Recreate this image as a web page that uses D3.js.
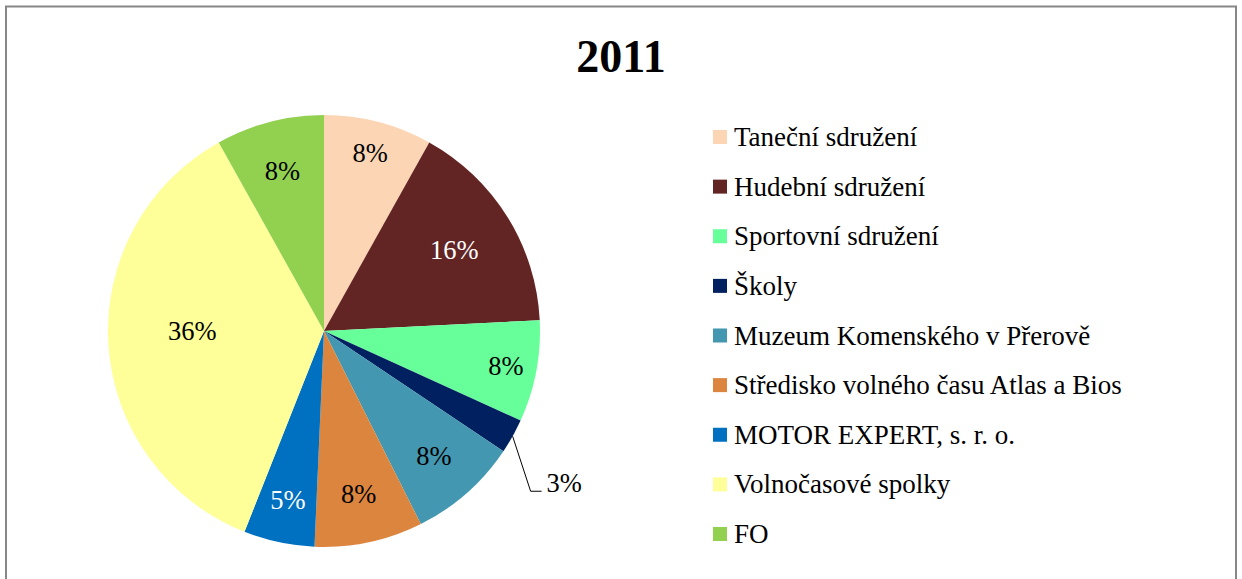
<!DOCTYPE html>
<html>
<head>
<meta charset="utf-8">
<script src="https://cdn.jsdelivr.net/npm/d3@7"></script>
<style>
  html, body { margin: 0; padding: 0; background: #fff; }
  svg { display: block; }
  text { font-family: "Liberation Serif", "Times New Roman", serif; }
</style>
</head>
<body>
<svg id="chart" width="1242" height="579"></svg>
<script>
// ---- data ----
const title = "2011";
const categories = [
  "Taneční sdružení",
  "Hudební sdružení",
  "Sportovní sdružení",
  "Školy",
  "Muzeum Komenského v Přerově",
  "Středisko volného času Atlas a Bios",
  "MOTOR EXPERT, s. r. o.",
  "Volnočasové spolky",
  "FO"
];
const values = [8.1, 16.1, 7.6, 2.6, 8.2, 8.1, 5.3, 35.9, 8.1];
const colors = ["#FCD5B5", "#632523", "#66FF99", "#002060", "#4397B0", "#DC853E", "#0070C0", "#FFFF99", "#92D050"];

// ---- layout / style ----
const labelRadius = [0.85, 0.71, 0.857, null, 0.77, 0.77, 0.80, 0.61, 0.765];
const labelColor = ["#000", "#fff", "#000", "#000", "#000", "#000", "#fff", "#000", "#000"];
const cx = 324, cy = 331, R = 216;

const svg = d3.select("#chart");

// border
svg.append("rect")
  .attr("x", 6).attr("y", 6.5).attr("width", 1230).attr("height", 600)
  .attr("fill", "#fff").attr("stroke", "#878787").attr("stroke-width", 2);

// title
svg.append("text")
  .attr("x", 621).attr("y", 72)
  .attr("text-anchor", "middle")
  .attr("font-size", 46).attr("font-weight", "bold")
  .text(title);

const total = d3.sum(values);
const pie = d3.pie().sort(null).value(d => d)(values);
const arc = d3.arc().innerRadius(0).outerRadius(R);

const g = svg.append("g").attr("transform", `translate(${cx},${cy})`);

g.selectAll("path.slice")
  .data(pie)
  .join("path")
  .attr("class", "slice")
  .attr("d", arc)
  .attr("fill", (d, i) => colors[i]);

const fmt = v => Math.round(v / total * 100) + "%";

pie.forEach((d, i) => {
  let mid = (d.startAngle + d.endAngle) / 2;
  if (i === 7) mid = 1.5 * Math.PI; // 36% label sits level with the centre
  if (labelRadius[i] != null) {
    const r = R * labelRadius[i];
    g.append("text")
      .attr("x", r * Math.sin(mid))
      .attr("y", -r * Math.cos(mid))
      .attr("text-anchor", "middle")
      .attr("dominant-baseline", "central")
      .attr("font-size", 26.5)
      .attr("fill", labelColor[i])
      .text(fmt(values[i]));
  } else {
    // outside label with leader line
    const x0 = R * Math.sin(mid), y0 = -R * Math.cos(mid);
    const x1 = x0 + 18, y1 = y0 + 55, x2 = x1 + 11;
    g.append("path")
      .attr("d", `M${x0},${y0}L${x1},${y1}L${x2},${y1}`)
      .attr("fill", "none").attr("stroke", "#000").attr("stroke-width", 1);
    g.append("text")
      .attr("x", x2 + 5).attr("y", y1 - 8)
      .attr("dominant-baseline", "central")
      .attr("font-size", 26.5)
      .attr("fill", "#000")
      .text(fmt(values[i]));
  }
});

// legend
const legendY = d3.scalePoint().domain(categories).range([137, 534]);
const leg = svg.append("g");
categories.forEach((c, i) => {
  const y = legendY(c);
  leg.append("rect")
    .attr("x", 713).attr("y", y - 7).attr("width", 14).attr("height", 14)
    .attr("fill", colors[i]);
  leg.append("text")
    .attr("x", 734).attr("y", y)
    .attr("dominant-baseline", "central")
    .attr("font-size", 27)
    .text(c);
});
</script>
</body>
</html>
